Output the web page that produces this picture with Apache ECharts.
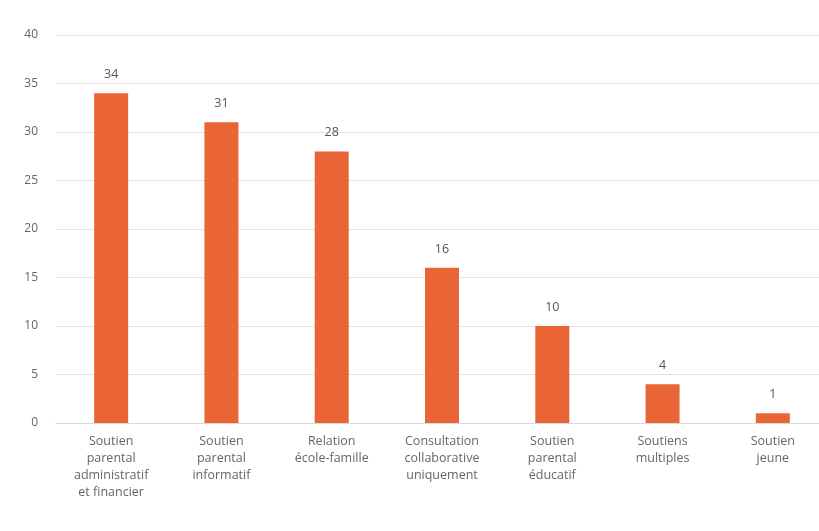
<!DOCTYPE html>
<html>
<head>
<meta charset="utf-8">
<script src="https://cdn.jsdelivr.net/npm/echarts@6/dist/echarts.min.js"></script>
<style>html,body{margin:0;padding:0;background:#fff;overflow:hidden;width:819px;height:531px;}#c{width:828px;height:531px;}</style>
</head>
<body>
<div id="c"></div>
<script>
const categories = [
  "Soutien\nparental\nadministratif\net financier",
  "Soutien\nparental\ninformatif",
  "Relation\nécole-famille",
  "Consultation\ncollaborative\nuniquement",
  "Soutien\nparental\néducatif",
  "Soutiens\nmultiples",
  "Soutien\njeune"
];
const values = [34, 31, 28, 16, 10, 4, 1];
const yTicks = [0, 5, 10, 15, 20, 25, 30, 35, 40];

const chart = echarts.init(document.getElementById('c'), null, {renderer: 'canvas'});
const font = "'Open Sans', sans-serif";
chart.setOption({
  animation: false,
  grid: {left: 56, right: 0, top: 35, bottom: 108, containLabel: false},
  xAxis: {
    type: 'category',
    data: categories,
    axisLine: {show: true, lineStyle: {color: '#d9d9d9', width: 1}},
    axisTick: {show: false},
    axisLabel: {color: '#666666', fontSize: 12.5, fontFamily: font, lineHeight: 17, margin: 10, interval: 0}
  },
  yAxis: {
    type: 'value',
    min: yTicks[0],
    max: yTicks[yTicks.length - 1],
    interval: 5,
    axisLine: {show: false},
    axisTick: {show: false},
    splitLine: {lineStyle: {color: '#e3e3e3', width: 1}},
    axisLabel: {color: '#666666', fontSize: 12, fontFamily: font, margin: 18}
  },
  series: [{
    type: 'bar',
    data: values,
    barWidth: 34,
    itemStyle: {color: '#EA6536'},
    label: {show: true, position: 'top', distance: 12, color: '#555555', fontSize: 12.5, fontFamily: font}
  }]
});
</script>
</body>
</html>
